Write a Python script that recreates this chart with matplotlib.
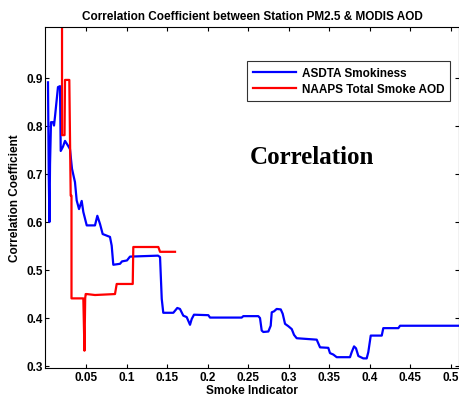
import matplotlib
matplotlib.use("Agg")
from matplotlib import pyplot as plt

plt.rcParams['font.family'] = ['Liberation Sans', 'DejaVu Sans']
plt.rcParams['font.weight'] = 'bold'

# ASDTA Smokiness curve
asdta_x = [0.0031, 0.0040, 0.0049, 0.0056, 0.0068, 0.0093, 0.0105, 0.0117, 0.0154, 0.0179,
           0.0188, 0.0216, 0.0241, 0.0278, 0.0302, 0.0327, 0.0364, 0.0385, 0.0414, 0.0447,
           0.0467, 0.0509, 0.0611, 0.0640, 0.0673, 0.0706, 0.0796, 0.0817, 0.0837, 0.0920,
           0.0944, 0.1006, 0.1043, 0.1389, 0.1414, 0.1435, 0.1454, 0.1578, 0.1627, 0.1660,
           0.1701, 0.1743, 0.1784, 0.1805, 0.1833, 0.2010, 0.2031, 0.2422, 0.2442, 0.2627,
           0.2648, 0.2669, 0.2689, 0.2751, 0.2780, 0.2793, 0.2821, 0.2854, 0.2904, 0.2928,
           0.2957, 0.2998, 0.3040, 0.3068, 0.3101, 0.3183, 0.3348, 0.3389, 0.3491, 0.3512,
           0.3553, 0.3595, 0.3759, 0.3780, 0.3809, 0.3833, 0.3862, 0.3923, 0.3965, 0.3985,
           0.4015, 0.4151, 0.4170, 0.4356, 0.4377, 0.5117]
asdta_y = [0.890, 0.700, 0.599, 0.720, 0.807, 0.807, 0.800, 0.818, 0.880, 0.882,
           0.747, 0.756, 0.768, 0.758, 0.751, 0.710, 0.682, 0.644, 0.626, 0.643,
           0.620, 0.592, 0.592, 0.612, 0.595, 0.574, 0.568, 0.550, 0.510, 0.512,
           0.517, 0.519, 0.527, 0.529, 0.526, 0.439, 0.410, 0.410, 0.420, 0.418,
           0.404, 0.401, 0.385, 0.397, 0.406, 0.405, 0.400, 0.400, 0.403, 0.403,
           0.399, 0.373, 0.370, 0.371, 0.383, 0.411, 0.413, 0.418, 0.417, 0.408,
           0.387, 0.382, 0.376, 0.364, 0.357, 0.356, 0.354, 0.338, 0.337, 0.326,
           0.323, 0.3175, 0.3175, 0.328, 0.340, 0.336, 0.320, 0.315, 0.315, 0.328,
           0.3625, 0.3625, 0.378, 0.378, 0.383, 0.383]

# NAAPS Total Smoke AOD curve
naaps_x = [0.0204, 0.0204, 0.0235, 0.0241, 0.0294, 0.0311, 0.0321, 0.0321, 0.0467, 0.0481,
           0.0490, 0.0496, 0.0509, 0.0611, 0.0858, 0.0879, 0.1077, 0.1084, 0.1393, 0.1414,
           0.1599]
naaps_y = [1.100, 0.780, 0.780, 0.895, 0.895, 0.654, 0.654, 0.440, 0.440, 0.331,
           0.440, 0.449, 0.449, 0.447, 0.449, 0.470, 0.470, 0.547, 0.547, 0.537,
           0.537]

x_ticks = [0.05, 0.1, 0.15, 0.2, 0.25, 0.3, 0.35, 0.4, 0.45, 0.5]
x_labels = ['0.05', '0.1', '0.15', '0.2', '0.25', '0.3', '0.35', '0.4', '0.45', '0.5']
y_ticks = [0.3, 0.4, 0.5, 0.6, 0.7, 0.8, 0.9]

fs = 8.5
fig = plt.figure(figsize=(4.6, 4.02), dpi=100)
ax = fig.add_axes([0.0989, 0.0821, 0.899, 0.848])

ax.plot(asdta_x, asdta_y, color='#0000ff', linewidth=1.6, label='ASDTA Smokiness')
ax.plot(naaps_x, naaps_y, color='#ff0000', linewidth=1.6, label='NAAPS Total Smoke AOD')

ax.set_xlim(0, 0.5105)
ax.set_ylim(0.295, 1.005)
ax.set_xticks(x_ticks)
ax.set_xticklabels(x_labels)
ax.set_yticks(y_ticks)
ax.tick_params(direction='in', length=3, width=0.8, top=True, right=True,
               labelsize=fs, pad=2)
for lab in ax.get_xticklabels() + ax.get_yticklabels():
    lab.set_fontweight('bold')
for s in ax.spines.values():
    s.set_linewidth(0.8)

ax.set_title('Correlation Coefficient between Station PM2.5 & MODIS AOD',
             fontsize=fs, fontweight='bold', pad=6)
ax.set_xlabel('Smoke Indicator', fontsize=fs, fontweight='bold', labelpad=1)
ax.set_ylabel('Correlation Coefficient', fontsize=fs, fontweight='bold', labelpad=4)

leg = ax.legend(loc='upper right', bbox_to_anchor=(0.978, 0.90), fontsize=fs,
                frameon=True, fancybox=False, handlelength=3.6, labelspacing=0.3,
                borderpad=0.5, handletextpad=0.5, borderaxespad=0)
leg.get_frame().set_edgecolor('black')
leg.get_frame().set_linewidth(0.8)
for t in leg.get_texts():
    t.set_fontweight('bold')

ax.text(0.329, 0.735, 'Correlation', fontsize=18, fontweight='bold',
        family=['Liberation Serif', 'DejaVu Serif'], ha='center', va='center')

fig.savefig('out.png', dpi=100)
